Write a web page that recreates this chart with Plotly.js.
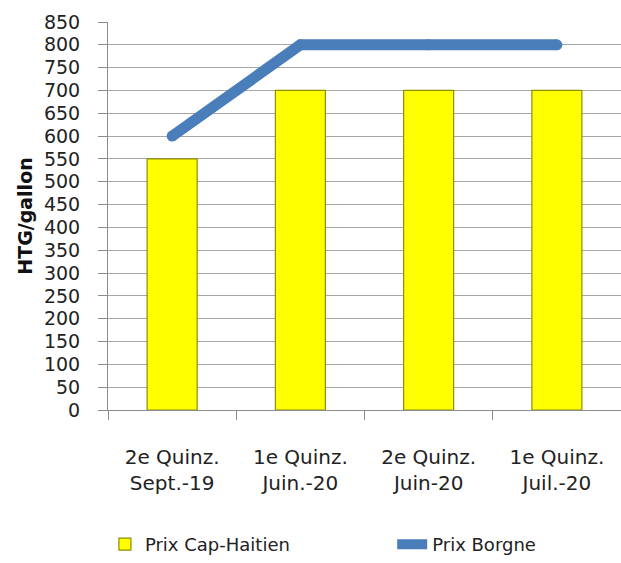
<!DOCTYPE html>
<html>
<head>
<meta charset="utf-8">
<script src="https://cdn.plot.ly/plotly-3.0.1.min.js"></script>
<style>
  html, body { margin: 0; padding: 0; background: #ffffff; }
  #chart { width: 621px; height: 563px; }
</style>
</head>
<body>
<div id="chart"></div>
<script>
// Categories (two-line tick labels)
const categories = [
  '2e Quinz.<br>Sept.-19',
  '1e Quinz.<br>Juin.-20',
  '2e Quinz.<br>Juin-20',
  '1e Quinz.<br>Juil.-20'
];

// Series values (HTG/gallon)
const prixCapHaitien = [550, 700, 700, 700];
const prixBorgne = [600, 800, 800, 800];

const FONT = '"DejaVu Sans", sans-serif';
const TEXT = '#222222';
const GRID = '#a6a6a6';
const AXIS = '#8c8c8c';
const BLUE = '#4a7ebb';

const traces = [
  {
    type: 'bar',
    x: categories,
    y: prixCapHaitien,
    name: 'Prix Cap-Haitien',
    width: 0.39,
    marker: {
      color: '#ffff00',
      line: { color: '#8f8f00', width: 1.2 }
    },
    legend: 'legend',
    hoverinfo: 'y'
  },
  {
    type: 'scatter',
    mode: 'lines',
    x: categories,
    y: prixBorgne,
    name: 'Prix Borgne',
    line: { color: BLUE, width: 11 },
    legend: 'legend2',
    hoverinfo: 'y'
  },
  // round caps / joins for the thick line
  {
    type: 'scatter',
    mode: 'markers',
    x: categories,
    y: prixBorgne,
    marker: { color: BLUE, size: 11 },
    showlegend: false,
    hoverinfo: 'skip'
  }
];

// legends sit below the plot, positioned in paper units of the 513px-wide plot
const legendBase = {
  orientation: 'h',
  xanchor: 'left',
  yanchor: 'middle',
  y: -0.348,
  font: { family: FONT, size: 18, color: TEXT },
  bgcolor: 'rgba(0,0,0,0)'
};

const layout = {
  width: 621,
  height: 563,
  margin: { l: 108, r: 0, t: 22, b: 150 },
  paper_bgcolor: '#ffffff',
  plot_bgcolor: '#ffffff',
  font: { family: FONT, color: TEXT, size: 18 },
  showlegend: true,
  xaxis: {
    type: 'category',
    automargin: false,
    tickson: 'boundaries',
    ticks: 'outside',
    ticklen: 9,
    tickcolor: AXIS,
    showline: true,
    linecolor: AXIS,
    showgrid: false,
    ticklabelstandoff: 29,
    tickfont: { family: FONT, size: 20, color: TEXT },
    fixedrange: true
  },
  yaxis: {
    range: [0, 850],
    automargin: false,
    dtick: 50,
    tick0: 0,
    ticks: 'outside',
    ticklen: 9,
    tickcolor: AXIS,
    showline: true,
    linecolor: AXIS,
    showgrid: true,
    gridcolor: GRID,
    gridwidth: 1,
    zeroline: false,
    ticklabelstandoff: 14,
    tickfont: { family: FONT, size: 19, color: TEXT },
    title: {
      text: 'HTG/gallon',
      font: { family: FONT, size: 19, color: '#111111', weight: 'bold' },
      standoff: 6
    },
    fixedrange: true
  },
  legend: Object.assign({}, legendBase, { x: -0.006 }),
  legend2: Object.assign({}, legendBase, { x: 0.554 })
};

Plotly.newPlot('chart', traces, layout, { displayModeBar: false, staticPlot: true });
</script>
</body>
</html>
